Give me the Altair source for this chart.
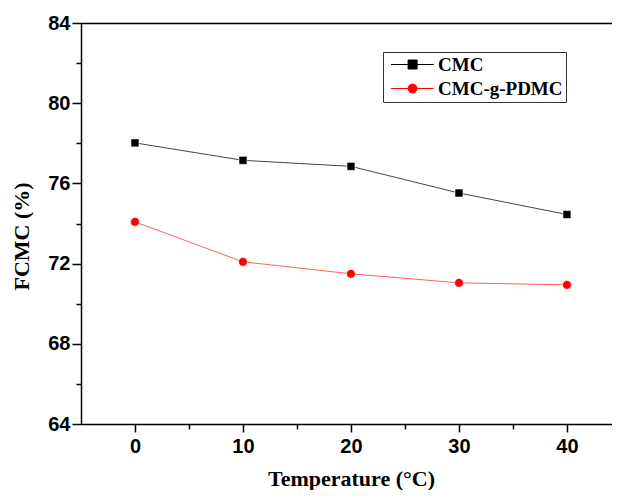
import altair as alt
import pandas as pd

temps = [0, 10, 20, 30, 40]
cmc = [78.02, 77.15, 76.85, 75.52, 74.45]
cmc_g = [74.08, 72.09, 71.49, 71.04, 70.94]
series_names = ["CMC", "CMC-g-PDMC"]
x_major = [0, 10, 20, 30, 40]
x_minor = [5, 15, 25, 35]
y_major = [64, 68, 72, 76, 80, 84]
y_minor = [66, 70, 74, 78, 82]

rows = []
for t, v in zip(temps, cmc):
    rows.append({"T": t, "v": v, "s": series_names[0]})
for t, v in zip(temps, cmc_g):
    rows.append({"T": t, "v": v, "s": series_names[1]})
df = pd.DataFrame(rows)

xs = alt.Scale(domain=[-5, 44.17], nice=False, zero=False)
ys = alt.Scale(domain=[64, 84], nice=False, zero=False)

common = dict(labelFont="Liberation Sans", labelFontWeight="bold", labelFontSize=20,
              labelColor="black", domainColor="black", tickColor="black",
              domainWidth=1.5, tickWidth=1.5, grid=False)

base = alt.Chart(df)

sq_path = "M-1,0H2.8M4.8,0H8.5M2.8,-1H4.8V1H2.8Z"
ci_path = "M-1,0H2.8M4.8,0H8.5M2.8,0A1,1,0,1,1,4.8,0A1,1,0,1,1,2.8,0Z"

legend = alt.Legend(
    title=None, orient="none", legendX=302, legendY=29, strokeColor="#333333",
    padding=3, labelFont="Liberation Serif", labelFontWeight="bold", labelFontSize=19,
    labelColor="black", labelOffset=33, rowPadding=4, symbolSize=81, symbolStrokeWidth=1,
    symbolOpacity=1,
)

color_scale = alt.Scale(domain=series_names, range=["black", "red"])

leg_layer = base.transform_filter("false").mark_point(filled=False, strokeWidth=1).encode(
    x=alt.X("T:Q", scale=xs, axis=None),
    y=alt.Y("v:Q", scale=ys, axis=None),
    color=alt.Color("s:N", scale=color_scale, legend=legend),
    fill=alt.Fill("s:N", scale=alt.Scale(domain=series_names, range=["black", "red"]), legend=legend),
    shape=alt.Shape("s:N", scale=alt.Scale(domain=series_names, range=[sq_path, ci_path]), legend=legend),
)

lines = base.mark_line(strokeWidth=1).encode(
    x=alt.X("T:Q", scale=xs, axis=alt.Axis(
        values=x_major, orient="bottom", tickSize=8, labelPadding=4,
        title="Temperature (°C)", titleFont="Liberation Serif", titleFontWeight="bold",
        titleFontSize=22, titleColor="black", titleX=270, titleY=61,
        titleBaseline="alphabetic", titleAlign="center", **common)),
    y=alt.Y("v:Q", scale=ys, axis=alt.Axis(
        values=y_major, orient="left", tickSize=9, labelPadding=2,
        title="FCMC (%)", titleFont="Liberation Serif", titleFontWeight="bold",
        titleFontSize=22, titleColor="black", titleX=-48, titleY=213, titleAngle=270,
        titleBaseline="bottom", titleAlign="center", **common)),
    stroke=alt.Stroke("s:N", scale=alt.Scale(domain=series_names, range=["#444444", "#ff6060"]), legend=None),
)

sq_pts = base.transform_filter(alt.datum.s == series_names[0]).mark_point(
    filled=True, opacity=1, shape="square", size=64, stroke="white", strokeWidth=0.6).encode(
    x=alt.X("T:Q", scale=xs, axis=None),
    y=alt.Y("v:Q", scale=ys, axis=None),
    color=alt.Color("s:N", scale=color_scale),
)
ci_pts = base.transform_filter(alt.datum.s == series_names[1]).mark_point(
    filled=True, opacity=1, shape="circle", size=78, stroke="white", strokeWidth=0.6).encode(
    x=alt.X("T:Q", scale=xs, axis=None),
    y=alt.Y("v:Q", scale=ys, axis=None),
    color=alt.Color("s:N", scale=color_scale),
)

minor = base.mark_point(opacity=0).encode(
    x=alt.X("T:Q", scale=xs, axis=alt.Axis(values=x_minor, orient="bottom", tickSize=5, labels=False,
                                           domain=False, title=None, tickWidth=1.5, tickColor="black", grid=False)),
    y=alt.Y("v:Q", scale=ys, axis=alt.Axis(values=y_minor, orient="left", tickSize=5, labels=False,
                                           domain=False, title=None, tickWidth=1.5, tickColor="black", grid=False)),
)

top = base.mark_point(opacity=0).encode(
    x=alt.X("T:Q", scale=xs, axis=alt.Axis(orient="top", labels=False, ticks=False, domain=True,
                                           domainWidth=1.5, domainColor="black", title=None, grid=False)),
    y=alt.Y("v:Q", scale=ys, axis=None),
)

chart = alt.layer(leg_layer, lines, sq_pts, ci_pts, minor, top).resolve_axis(
    x="independent", y="independent"
).properties(
    width=531, height=401,
    autosize=alt.AutoSizeParams(type="none"),
    padding={"left": 73, "top": 15, "right": 0, "bottom": 66},
    background="white",
).configure_view(stroke=None)

chart.save("out.html", embed_options={"renderer": "svg", "actions": False})
